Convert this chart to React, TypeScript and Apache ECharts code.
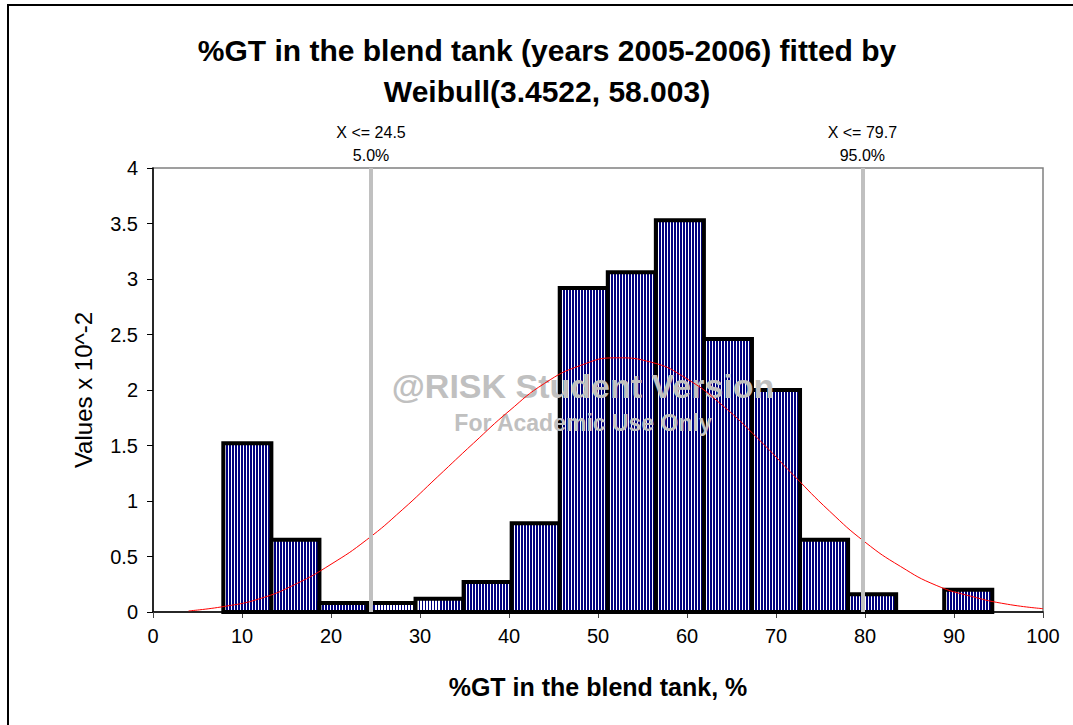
import React, { useEffect, useRef } from "react";
import * as echarts from "echarts";

// Histogram bins (edges) and their heights, in units of 10^-2
const binEdges = [7.9, 13.3, 18.7, 24.1, 29.5, 34.9, 40.3, 45.7, 51.1, 56.5, 61.9, 67.3, 72.7, 78.1, 83.5, 88.9, 94.3];
const binValues = [1.52, 0.65, 0.08, 0.08, 0.12, 0.27, 0.8, 2.92, 3.06, 3.53, 2.46, 2.0, 0.65, 0.16, 0, 0.2];

// Fitted Weibull density, in units of 10^-2
const curveX = [4, 8, 12, 16, 20, 24, 28, 32, 36, 40, 44, 48, 52, 56, 60, 64, 68, 72, 76, 80, 84, 88, 92, 96, 100];
const curveY = [0.01, 0.05, 0.12, 0.25, 0.43, 0.65, 0.92, 1.22, 1.52, 1.81, 2.06, 2.22, 2.29, 2.25, 2.1, 1.86, 1.56, 1.23, 0.91, 0.63, 0.41, 0.24, 0.14, 0.07, 0.03];

// Percentile markers
const markerX = [24.5, 79.7];
const markerP = [5.0, 95.0];

const titleLines = ["%GT in the blend tank (years 2005-2006) fitted by", "Weibull(3.4522, 58.003)"];
const xAxisName = "%GT in the blend tank, %";
const yAxisName = "Values x 10^-2";

const FONT = '"Liberation Sans", Arial, Helvetica, sans-serif';
const NAVY = "#000080";

function stripeFill() {
  const periods = 16;
  const stops: { offset: number; color: string }[] = [];
  for (let k = 0; k < periods; k++) {
    const a = k / periods;
    const b = (k + 0.64) / periods;
    const c = (k + 1) / periods;
    stops.push({ offset: a, color: NAVY });
    stops.push({ offset: b, color: NAVY });
    stops.push({ offset: b, color: "#ffffff" });
    stops.push({ offset: c, color: "#ffffff" });
  }
  return new echarts.graphic.LinearGradient(0, 0, 1, 0, stops);
}

export default function App() {
  const ref = useRef<HTMLDivElement>(null);

  useEffect(() => {
    if (!ref.current) return;
    const chart = echarts.init(ref.current, undefined, { renderer: "svg" });
    const fill = stripeFill();

    const histData = binValues.map((v, i) => [binEdges[i], binEdges[i + 1], v]);
    const curveData = curveX.map((x, i) => [x, curveY[i]]);

    chart.setOption({
      animation: false,
      backgroundColor: "#ffffff",
      grid: {
        left: 153,
        top: 168,
        width: 890,
        height: 444,
        show: true,
        borderColor: "#808080",
        borderWidth: 1.5,
        backgroundColor: "transparent",
      },
      xAxis: {
        type: "value",
        min: 0,
        max: 100,
        interval: 10,
        name: xAxisName,
        nameLocation: "middle",
        nameGap: 62,
        nameTextStyle: { fontFamily: FONT, fontSize: 25, fontWeight: "bold", color: "#000" },
        axisLine: { show: true, lineStyle: { color: "#000", width: 1.5 } },
        axisTick: { show: true, inside: false, length: 6, lineStyle: { color: "#444", width: 1 } },
        axisLabel: { fontFamily: FONT, fontSize: 20, color: "#000", margin: 14 },
        splitLine: { show: false },
      },
      yAxis: {
        type: "value",
        min: 0,
        max: 4,
        interval: 0.5,
        name: yAxisName,
        nameLocation: "middle",
        nameGap: 58,
        nameTextStyle: { fontFamily: FONT, fontSize: 24, color: "#000" },
        axisLine: { show: true, lineStyle: { color: "#000", width: 1.5 } },
        axisTick: { show: true, inside: false, length: 6, lineStyle: { color: "#000", width: 1 } },
        axisLabel: { fontFamily: FONT, fontSize: 20, color: "#000", margin: 15 },
        splitLine: { show: false },
      },
      graphic: [
        {
          type: "rect",
          z: 0,
          silent: true,
          shape: { x: 8, y: 5, width: 1100, height: 800 },
          style: { fill: "none", stroke: "#000", lineWidth: 2 },
        },
        {
          type: "text",
          x: 547,
          y: 50,
          z: 10,
          style: {
            text: titleLines[0],
            align: "center",
            verticalAlign: "middle",
            font: `bold 30px ${FONT}`,
            fill: "#000",
          },
        },
        {
          type: "text",
          x: 547,
          y: 91,
          z: 10,
          style: {
            text: titleLines[1],
            align: "center",
            verticalAlign: "middle",
            font: `bold 30px ${FONT}`,
            fill: "#000",
          },
        },
        {
          type: "text",
          x: 583,
          y: 386,
          z: 3,
          silent: true,
          style: {
            text: "@RISK Student Version",
            align: "center",
            verticalAlign: "middle",
            font: `bold 34px ${FONT}`,
            fill: "#c0c0c0",
          },
        },
        {
          type: "text",
          x: 583,
          y: 423,
          z: 3,
          silent: true,
          style: {
            text: "For Academic Use Only",
            align: "center",
            verticalAlign: "middle",
            font: `bold 23px ${FONT}`,
            fill: "#c0c0c0",
          },
        },
      ],
      series: [
        {
          type: "custom",
          z: 1,
          silent: true,
          encode: { x: [0, 1], y: 2 },
          data: histData,
          renderItem: (params: any, api: any) => {
            const x0 = api.value(0);
            const x1 = api.value(1);
            const v = api.value(2);
            const p0 = api.coord([x0, v]);
            const p1 = api.coord([x1, 0]);
            return {
              type: "rect",
              shape: { x: p0[0], y: p0[1], width: p1[0] - p0[0], height: p1[1] - p0[1] },
              style: { fill: fill, stroke: "#000", lineWidth: 4 },
            };
          },
        },
        {
          type: "line",
          z: 5,
          silent: true,
          data: curveData,
          smooth: true,
          showSymbol: false,
          symbol: "none",
          lineStyle: { color: "#ff0000", width: 1 },
          markLine: {
            silent: true,
            z: 6,
            symbol: "none",
            lineStyle: { color: "#c0c0c0", width: 4, type: "solid" },
            label: {
              show: true,
              position: "end",
              distance: 1,
              color: "#000",
              fontFamily: FONT,
              fontSize: 16,
              lineHeight: 23,
              align: "center",
            },
            emphasis: { disabled: true },
            data: markerX.map((x, i) => ({
              xAxis: x,
              label: { formatter: `X <= ${x.toFixed(1)}\n${markerP[i].toFixed(1)}%` },
            })),
          },
        },
      ],
    });

    return () => chart.dispose();
  }, []);

  return (
    <div
      ref={ref}
      style={{ position: "fixed", left: 0, top: 0, width: 1073, height: 725, background: "#fff" }}
    />
  );
}
